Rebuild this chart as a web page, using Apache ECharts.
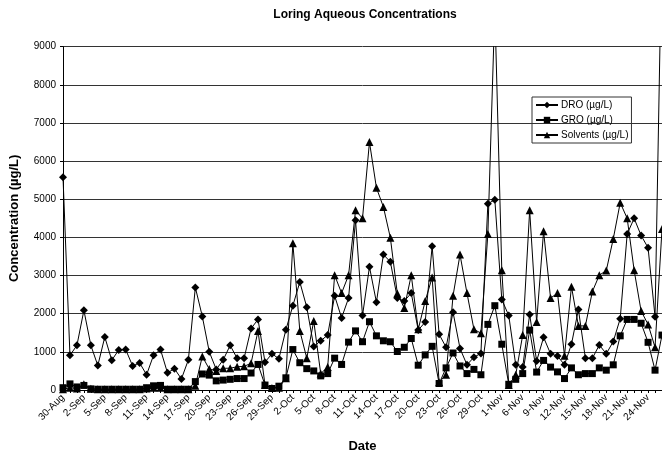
<!DOCTYPE html>
<html>
<head>
<meta charset="utf-8">
<script src="https://cdn.jsdelivr.net/npm/echarts@6/dist/echarts.min.js"></script>
<style>
html,body{margin:0;padding:0;background:#fff;}
#chart{width:662px;height:458px;}
</style>
</head>
<body>
<div id="chart"></div>
<script>
var categories = [
"30-Aug","31-Aug","1-Sep","2-Sep","3-Sep","4-Sep","5-Sep","6-Sep","7-Sep","8-Sep",
"9-Sep","10-Sep","11-Sep","12-Sep","13-Sep","14-Sep","15-Sep","16-Sep","17-Sep","18-Sep",
"19-Sep","20-Sep","21-Sep","22-Sep","23-Sep","24-Sep","25-Sep","26-Sep","27-Sep","28-Sep",
"29-Sep","30-Sep","1-Oct","2-Oct","3-Oct","4-Oct","5-Oct","6-Oct","7-Oct","8-Oct",
"9-Oct","10-Oct","11-Oct","12-Oct","13-Oct","14-Oct","15-Oct","16-Oct","17-Oct","18-Oct",
"19-Oct","20-Oct","21-Oct","22-Oct","23-Oct","24-Oct","25-Oct","26-Oct","27-Oct","28-Oct",
"29-Oct","30-Oct","31-Oct","1-Nov","2-Nov","5-Nov","6-Nov","7-Nov","8-Nov","9-Nov",
"10-Nov","11-Nov","12-Nov","13-Nov","14-Nov","15-Nov","16-Nov","17-Nov","18-Nov","19-Nov",
"20-Nov","21-Nov","22-Nov","23-Nov","24-Nov","25-Nov","26-Nov"
];
var droValues = [
5580,910,1170,2090,1170,640,1390,780,1050,1060,
630,710,400,910,1060,450,560,290,790,2690,
1930,1000,540,790,1170,830,830,1610,1850,730,
950,820,1580,2210,2830,2170,1140,1290,1440,2470,
1890,2410,4450,1950,3230,2300,3550,3360,2410,2330,
2540,1570,1780,3770,1460,1120,2040,1090,660,860,
960,4880,4990,2370,1950,660,600,1980,760,1380,
950,890,660,1200,2110,830,830,1180,950,1270,
1870,4090,4500,4050,3730,1920,12000
];
var groValues = [
60,160,80,120,30,20,20,20,20,20,
20,20,60,110,120,20,20,20,20,220,
420,390,240,260,280,300,300,445,670,130,
40,100,320,1060,715,560,500,370,430,835,
670,1255,1550,1266,1790,1420,1290,1265,1010,1120,
1350,650,920,1145,170,580,970,630,430,540,
400,1720,2210,1200,150,280,430,1570,470,775,
600,475,300,580,400,430,430,580,520,660,
1420,1850,1850,1750,1250,520,1440
];
var solventValues = [
20,60,40,150,30,20,20,20,20,20,
20,20,40,60,60,20,20,20,20,110,
880,550,500,570,570,610,620,700,1550,130,
50,60,310,3850,1550,835,1810,430,600,3010,
2540,3010,4710,4500,6500,5300,4800,3990,2530,2150,
3010,1590,2330,2950,200,400,2470,3550,2540,1590,
1490,4090,10000,3140,130,400,1440,4710,1780,4160,
2410,2540,900,2710,1680,1680,2580,3010,3130,3960,
4910,4500,3140,2070,1720,1120,4220
];
var seriesNames = ["DRO (\u00b5g/L)","GRO (\u00b5g/L)","Solvents (\u00b5g/L)"];
var yTicks = [0,1000,2000,3000,4000,5000,6000,7000,8000,9000];

var chart = echarts.init(document.getElementById('chart'), null, {renderer:'canvas'});
var FONT = 'Liberation Sans, Arial, sans-serif';
function mk(name, data, sym, size){
  return {
    name:name, type:'line', data:data, symbol:sym, symbolSize:size,
    showAllSymbol:true,
    clip:true, animation:false,
    lineStyle:{color:'#000', width:1},
    itemStyle:{color:'#000', borderWidth:0},
    emphasis:{disabled:true}
  };
}
chart.setOption({
  animation:false,
  textStyle:{fontFamily:FONT},
  title:{
    text:'Loring Aqueous Concentrations',
    left:360, top:4, textAlign:'center',
    textStyle:{fontFamily:FONT, fontSize:12, fontWeight:'bold', color:'#000'}
  },
  legend:{
    orient:'vertical', left:532, top:97,
    data:seriesNames,
    itemWidth:22, itemHeight:8, itemGap:5,
    padding:[3,3,3,3],
    borderColor:'#333', borderWidth:1,
    backgroundColor:'transparent',
    textStyle:{fontFamily:FONT, fontSize:10, color:'#000', padding:[0,0,0,-2]}
  },
  grid:{left:62, right:-4, top:46.7, bottom:63},
  xAxis:{
    type:'category', data:categories, boundaryGap:false,
    name:'Date', nameLocation:'middle', nameGap:50,
    nameTextStyle:{fontFamily:FONT, fontSize:13, fontWeight:'bold', color:'#000'},
    axisLine:{lineStyle:{color:'#000', width:1}},
    axisTick:{show:true, interval:0, length:3, lineStyle:{color:'#000'}},
    axisLabel:{interval:2, rotate:45, fontSize:10, color:'#000', margin:6, fontFamily:FONT},
    splitLine:{show:false}
  },
  yAxis:{
    type:'value', min:yTicks[0], max:yTicks[yTicks.length-1], interval:1000,
    name:'Concentration (\u00b5g/L)', nameLocation:'middle', nameGap:42,
    nameTextStyle:{fontFamily:FONT, fontSize:13, fontWeight:'bold', color:'#000'},
    axisLine:{show:true, lineStyle:{color:'#000', width:1}},
    axisTick:{show:true, length:3, lineStyle:{color:'#000'}},
    axisLabel:{fontSize:10, color:'#000', margin:7, fontFamily:FONT,
      formatter:function(v){ return String(v); }},
    splitLine:{show:true, lineStyle:{color:'#333', width:1}}
  },
  series:[
    mk(seriesNames[0], droValues, 'diamond', 8),
    mk(seriesNames[1], groValues, 'rect', 7),
    mk(seriesNames[2], solventValues, 'triangle', 8)
  ]
});
</script>
</body>
</html>
